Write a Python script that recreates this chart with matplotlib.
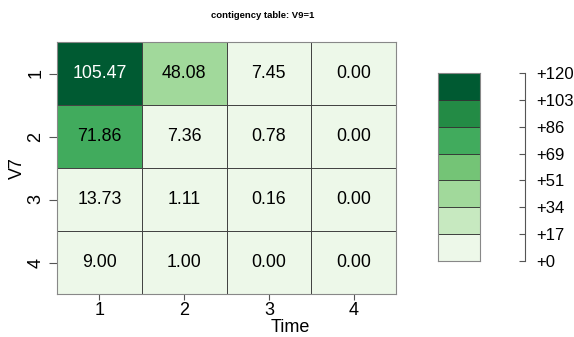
import numpy as np
import matplotlib
matplotlib.use('Agg')
import matplotlib.pyplot as plt
from matplotlib.colors import ListedColormap, BoundaryNorm

# contingency values (rows = V7, cols = Time)
rows = ['1', '2', '3', '4']
cols = ['1', '2', '3', '4']
values = np.array([[105.47, 48.08, 7.45, 0.00],
                   [71.86, 7.36, 0.78, 0.00],
                   [13.73, 1.11, 0.16, 0.00],
                   [9.00, 1.00, 0.00, 0.00]])

colors = ['#edf8e9', '#c7e9c0', '#a1d99b', '#74c476', '#41ab5d', '#238b45', '#005a32']
vmax = 120
bounds = np.linspace(0, vmax, len(colors) + 1)
cmap = ListedColormap(colors)
norm = BoundaryNorm(bounds, cmap.N)

plt.rcParams['font.family'] = ['Liberation Sans', 'DejaVu Sans']

fig = plt.figure(figsize=(5.74, 3.37), dpi=100)

# heatmap
ax = fig.add_axes([57/574, 1-294/337, 339/574, 252/337])
ax.pcolormesh(np.arange(5), np.arange(5), values, cmap=cmap, norm=norm,
              edgecolor='#444444', linewidth=0.6)
ax.set_xlim(0, 4)
ax.set_ylim(4, 0)
for i in range(4):
    for j in range(4):
        v = values[i, j]
        ax.text(j + 0.5, i + 0.5, '%.2f' % v, ha='center', va='center',
                fontsize=12.8, color='white' if v > 86 else 'black')
ax.set_xticks(np.arange(4) + 0.5)
ax.set_xticklabels(cols)
ax.set_yticks(np.arange(4) + 0.5)
ax.set_yticklabels(rows, rotation=90, va='center')
ax.tick_params(labelsize=13, color='#555555', width=0.8)
ax.tick_params(axis='x', length=4, pad=2)
ax.tick_params(axis='y', length=6, pad=3)
for s in ax.spines.values():
    s.set_color('#888888')
    s.set_linewidth(0.8)

# axis titles, placed like the original
ax.text((290-57)/339, (294-328)/252, 'Time', transform=ax.transAxes,
        ha='center', va='center', fontsize=13)
ax.text((17-57)/339, 0.5, 'V7', transform=ax.transAxes, rotation=90,
        ha='center', va='center', fontsize=13)
fig.text(263/574, 1-16/337, 'contigency table: V9=1', ha='center', va='center',
         fontsize=6.8, fontweight='bold')

# legend boxes
cax = fig.add_axes([438/574, 1-261/337, 42/574, 188/337])
for k, c in enumerate(colors):
    cax.bar(0.5, bounds[k+1] - bounds[k], bottom=bounds[k], width=1,
            color=c, edgecolor='#333333', linewidth=0.6)
cax.set_xlim(0, 1)
cax.set_ylim(0, vmax)
cax.set_xticks([])
cax.set_yticks([])
for s in cax.spines.values():
    s.set_color('#888888')
    s.set_linewidth(0.8)

# legend scale
sax = fig.add_axes([525/574, 1-261/337, 0.0001, 188/337])
sax.set_ylim(0, vmax)
sax.set_xticks([])
sax.set_yticks(bounds)
sax.set_yticklabels(['+%d' % round(b) for b in bounds])
for name in ['top', 'bottom', 'right']:
    sax.spines[name].set_visible(False)
sax.spines['left'].set_color('#555555')
sax.spines['left'].set_linewidth(0.8)
sax.tick_params(axis='y', left=True, right=False, labelleft=False, labelright=True,
                direction='out', length=4, labelsize=12, color='#555555', pad=4)

fig.savefig('out.png', dpi=100)
